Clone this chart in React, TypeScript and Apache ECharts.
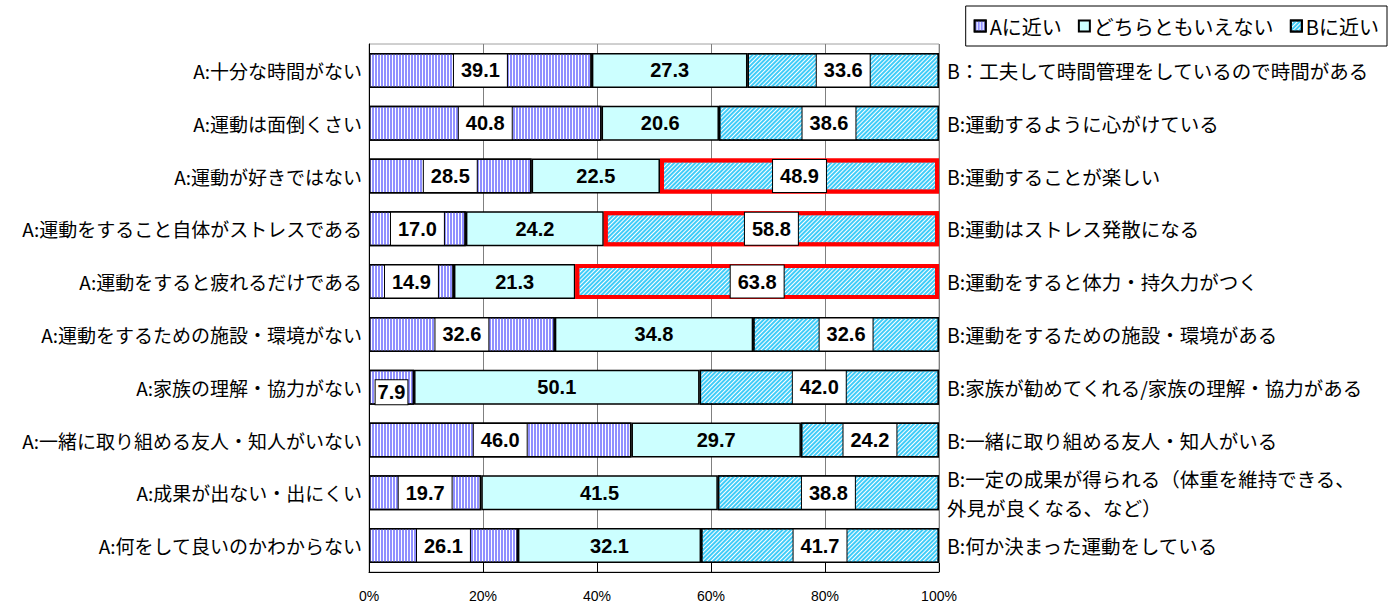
import React, { useEffect, useRef } from "react";
import * as echarts from "echarts";

const leftLabels = [
  "A:十分な時間がない",
  "A:運動は面倒くさい",
  "A:運動が好きではない",
  "A:運動をすること自体がストレスである",
  "A:運動をすると疲れるだけである",
  "A:運動をするための施設・環境がない",
  "A:家族の理解・協力がない",
  "A:一緒に取り組める友人・知人がいない",
  "A:成果が出ない・出にくい",
  "A:何をして良いのかわからない",
];
const rightLabels = [
  "B：工夫して時間管理をしているので時間がある",
  "B:運動するように心がけている",
  "B:運動することが楽しい",
  "B:運動はストレス発散になる",
  "B:運動をすると体力・持久力がつく",
  "B:運動をするための施設・環境がある",
  "B:家族が勧めてくれる/家族の理解・協力がある",
  "B:一緒に取り組める友人・知人がいる",
  "B:一定の成果が得られる（体重を維持できる、\n外見が良くなる、など）",
  "B:何か決まった運動をしている",
];
const seriesNames = ["Aに近い", "どちらともいえない", "Bに近い"];
const valuesA = [39.1, 40.8, 28.5, 17.0, 14.9, 32.6, 7.9, 46.0, 19.7, 26.1];
const valuesMid = [27.3, 20.6, 22.5, 24.2, 21.3, 34.8, 50.1, 29.7, 41.5, 32.1];
const valuesB = [33.6, 38.6, 48.9, 58.8, 63.8, 32.6, 42.0, 24.2, 38.8, 41.7];
const highlightedRows = [2, 3, 4];
const xTicks = [0, 20, 40, 60, 80, 100];

const CJK = "'Noto Sans CJK JP', 'Noto Sans', sans-serif";
const NUM = "Arial, 'Liberation Sans', sans-serif";

export default function App() {
  const ref = useRef<HTMLDivElement>(null);
  useEffect(() => {
    document.body.style.margin = "0";
    if (!ref.current) return;
    const chart = echarts.init(ref.current, undefined, { renderer: "svg" });
    const sums = valuesA.map((v, i) => v + valuesMid[i] + valuesB[i]);
    const raws = [valuesA, valuesMid, valuesB];

    const boxLabel = {
      show: true,
      position: "inside",
      fontFamily: NUM,
      fontWeight: "bold",
      fontSize: 20,
      color: "#000",
      backgroundColor: "#fff",
      borderColor: "#000",
      borderWidth: 1,
      padding: [6, 7],
    };
    const plainLabel = {
      show: true,
      position: "inside",
      fontFamily: NUM,
      fontWeight: "bold",
      fontSize: 20,
      color: "#000",
    };

    const styles = [
      {
        color: "#ffffff",
        borderColor: "#000",
        borderWidth: 1.5,
        decal: {
          symbol: "rect",
          symbolSize: 1,
          color: "#9090ff",
          dashArrayX: [2, 1],
          dashArrayY: [1, 0],
        },
      },
      { color: "#ccffff", borderColor: "#000", borderWidth: 1.5 },
      {
        color: "#ffffff",
        borderColor: "#000",
        borderWidth: 1.5,
        decal: {
          symbol: "rect",
          symbolSize: 1,
          color: "#40ccf8",
          dashArrayX: [1, 0],
          dashArrayY: [2, 1],
          rotation: -Math.PI / 4,
        },
      },
    ];

    const series = raws.map((arr, si) => ({
      name: seriesNames[si],
      type: "bar",
      stack: "total",
      barWidth: 35,
      yAxisIndex: 0,
      itemStyle: styles[si],
      label: {
        ...(si === 1 ? plainLabel : boxLabel),
        formatter: (p: any) => raws[si][p.dataIndex].toFixed(1),
      },
      data: arr.map((v, i) => {
        const item: any = { value: (v / sums[i]) * 100 };
        if (si === 2 && highlightedRows.includes(i)) {
          item.itemStyle = { borderColor: "#ff0000", borderWidth: 4 };
        }
        if (si === 0 && v < 10) {
          item.label = { padding: [2, 2], offset: [0, 5] };
        }
        return item;
      }),
    }));

    chart.setOption({
      animation: false,
      backgroundColor: "#fff",
      grid: {
        left: 369,
        right: 458,
        top: 44,
        bottom: 31,
        show: true,
        borderColor: "#a0a0a0",
        borderWidth: 1,
      },
      legend: {
        right: 10,
        top: 6,
        orient: "horizontal",
        borderColor: "#000",
        borderWidth: 1,
        padding: [10, 8],
        itemWidth: 11,
        itemHeight: 11,
        itemGap: 16,
        icon: "rect",
        textStyle: { fontSize: 20, fontFamily: CJK, color: "#000", padding: [0, 0, 0, -1] },
        data: seriesNames,
      },
      xAxis: {
        type: "value",
        min: xTicks[0],
        max: xTicks[xTicks.length - 1],
        interval: 20,
        axisLine: { show: true, lineStyle: { color: "#000", width: 1 } },
        axisTick: { show: true, inside: true, length: 9, lineStyle: { color: "#000" } },
        splitLine: { show: true, lineStyle: { color: "#808080", width: 1 } },
        axisLabel: {
          formatter: "{value}%",
          fontSize: 14,
          fontFamily: NUM,
          color: "#000",
          margin: 17,
        },
      },
      yAxis: [
        {
          type: "category",
          inverse: true,
          data: leftLabels,
          axisLine: { show: true, lineStyle: { color: "#000", width: 1 } },
          axisTick: { show: false },
          axisLabel: { fontSize: 19, fontFamily: CJK, color: "#000", margin: 7 },
        },
        {
          type: "category",
          inverse: true,
          position: "right",
          data: rightLabels,
          axisLine: { show: false },
          axisTick: { show: false },
          axisLabel: {
            fontSize: 19.5,
            fontFamily: CJK,
            color: "#000",
            margin: 8,
            align: "left",
            lineHeight: 29,
          },
        },
      ],
      series,
    } as any);
    return () => chart.dispose();
  }, []);
  return <div ref={ref} style={{ width: 1397, height: 603 }} />;
}
